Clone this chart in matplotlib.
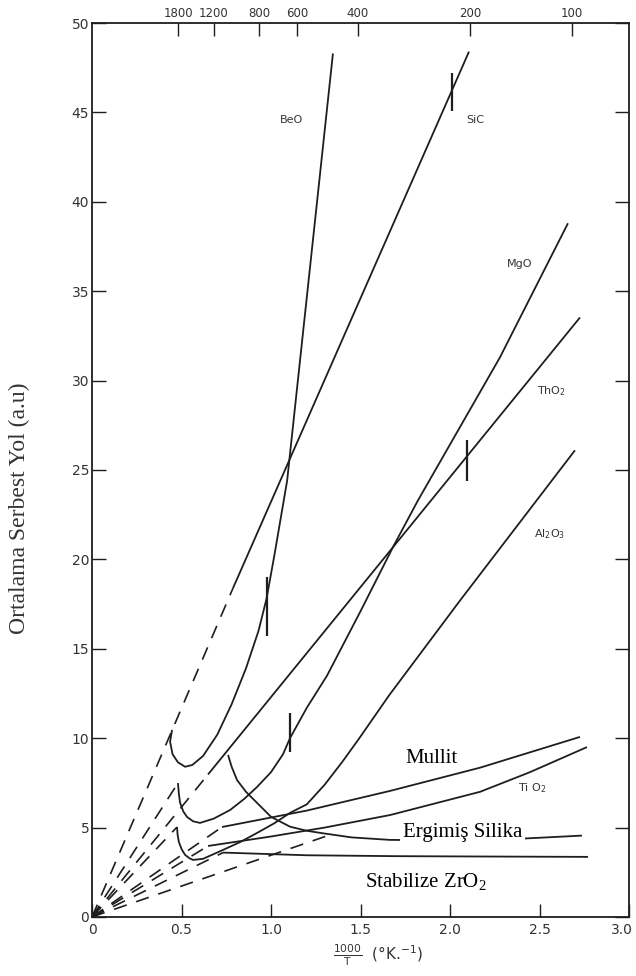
import numpy as np
import matplotlib.pyplot as plt
from matplotlib.transforms import ScaledTranslation

plt.rcParams['mathtext.fontset'] = 'custom'
plt.rcParams['mathtext.rm'] = 'Liberation Serif'
plt.rcParams['mathtext.sf'] = 'DejaVu Sans'
plt.rcParams['font.family'] = 'DejaVu Sans'

# --- curves (x = 1000/T, y = mean free path) ---
beo_x = [0.447, 0.436, 0.45, 0.48, 0.52, 0.56, 0.62, 0.70, 0.78, 0.86, 0.93, 0.975, 1.02, 1.09, 1.346]
beo_y = [10.46, 9.8, 9.1, 8.65, 8.4, 8.5, 9.0, 10.2, 11.9, 13.9, 16.0, 17.8, 20.3, 24.4, 48.3]

sic_x = [0.788, 2.106]
sic_y = [18.4, 48.4]

mgo_x = [0.48, 0.485, 0.492, 0.51, 0.531, 0.565, 0.603, 0.68, 0.771, 0.85, 0.922, 1.0, 1.067,
         1.106, 1.2, 1.313, 1.5, 1.682, 1.821, 2.279, 2.659]
mgo_y = [7.49, 6.9, 6.38, 5.9, 5.59, 5.35, 5.26, 5.5, 5.98, 6.6, 7.27, 8.1, 9.1,
         10.0, 11.7, 13.5, 17.1, 20.7, 23.3, 31.3, 38.8]

tho2_x = [0.648, 2.726]
tho2_y = [7.97, 33.53]

al2o3_x = [0.475, 0.478, 0.485, 0.50, 0.52, 0.545, 0.564, 0.62, 0.732, 0.83, 0.922, 1.02, 1.106,
           1.2, 1.3, 1.4, 1.49, 1.66, 2.056, 2.698]
al2o3_y = [5.03, 4.6, 4.2, 3.8, 3.47, 3.28, 3.19, 3.25, 3.75, 4.2, 4.70, 5.25, 5.82,
           6.3, 7.4, 8.7, 9.95, 12.4, 17.7, 26.1]

mullit_x = [0.726, 1.2, 1.665, 2.168, 2.726]
mullit_y = [5.03, 5.95, 7.05, 8.35, 10.07]

tio2_x = [0.648, 1.0, 1.3, 1.665, 2.168, 2.447, 2.765]
tio2_y = [3.97, 4.5, 5.0, 5.70, 7.0, 8.1, 9.5]

silika_x = [0.760, 0.78, 0.810, 0.86, 0.922, 1.0, 1.106, 1.2, 1.29, 1.45, 1.665, 2.056, 2.4, 2.737]
silika_y = [9.06, 8.4, 7.66, 7.0, 6.38, 5.6, 5.05, 4.82, 4.68, 4.45, 4.31, 4.28, 4.38, 4.55]

zro2_x = [0.732, 1.2, 1.7, 2.2, 2.771]
zro2_y = [3.6, 3.45, 3.4, 3.38, 3.36]

# dashed extrapolations to the origin (end points)
dash_end_x = [0.788, 0.48, 0.648, 0.475, 0.726, 0.648, 0.732, 1.346]
dash_end_y = [18.4, 7.49, 7.97, 5.03, 5.03, 3.97, 3.6, 4.65]

# short vertical marks on curves: x, y_low, y_high
mark_x = [0.978, 1.106, 2.095, 2.011]
mark_lo = [15.7, 9.2, 24.4, 45.1]
mark_hi = [19.0, 11.4, 26.7, 47.2]

# top axis temperatures (deg C)
top_temps = [1800, 1200, 800, 600, 400, 200, 100]

x_ticks = [0, 0.5, 1.0, 1.5, 2.0, 2.5, 3.0]
x_ticklabels = ['0', '0.5', '1.0', '1.5', '2.0', '2.5', '3.0']
y_ticks = [0, 5, 10, 15, 20, 25, 30, 35, 40, 45, 50]

ink = '#1e1e1e'
lw = 1.3

fig = plt.figure(figsize=(6.36, 9.76), dpi=100)
ax = fig.add_axes([0.1447, 0.0605, 0.8443, 0.9159])

for xs, ys in [(beo_x, beo_y), (sic_x, sic_y), (mgo_x, mgo_y), (tho2_x, tho2_y),
               (al2o3_x, al2o3_y), (mullit_x, mullit_y), (tio2_x, tio2_y),
               (silika_x, silika_y), (zro2_x, zro2_y)]:
    ax.plot(xs, ys, color=ink, lw=lw, solid_capstyle='butt', zorder=2)

for ex, ey in zip(dash_end_x, dash_end_y):
    ax.plot([0, ex], [0, ey], color=ink, lw=1.2, linestyle=(0, (8, 6)), zorder=2)

ax.vlines(mark_x, mark_lo, mark_hi, color=ink, lw=1.6, zorder=2)

# chemical labels
chem = [('BeO', 1.117, 44.6), ('SiC', 2.14, 44.6), ('MgO', 2.391, 36.5),
        (r'ThO$\mathsf{_2}$', 2.564, 29.4), (r'Al$\mathsf{_2}$O$\mathsf{_3}$', 2.559, 21.4),
        (r'Ti O$\mathsf{_2}$', 2.458, 7.2)]
for s, x, y in chem:
    ax.text(x, y, s, fontsize=8, color='#333333', ha='center', va='center')

# serif labels on white boxes
box = dict(facecolor='white', edgecolor='none', pad=2)
ax.text(1.894, 8.61, 'Mullit', family='Liberation Serif', fontsize=15,
        ha='center', va='baseline', bbox=box, zorder=5)
ax.text(2.07, 4.47, 'Ergimiş Silika', family='Liberation Serif', fontsize=15,
        ha='center', va='baseline', bbox=box, zorder=5)
ax.text(1.866, 1.68, r'Stabilize ZrO$_2$', family='Liberation Serif', fontsize=15,
        ha='center', va='baseline', bbox=box, zorder=5)

ax.set_xlim(0, 3.0)
ax.set_ylim(0, 50)
ax.set_xticks(x_ticks)
ax.set_xticklabels(x_ticklabels)
ax.set_yticks(y_ticks)
ax.tick_params(axis='x', direction='in', length=9.5, width=1.0, pad=4,
               labelsize=10, colors=ink, labelcolor='#333333')
ax.tick_params(axis='y', direction='in', length=10, width=1.0, pad=2,
               labelsize=10, colors=ink, labelcolor='#333333', right=True)
for sp in ax.spines.values():
    sp.set_color(ink)
    sp.set_linewidth(1.3)

# last bottom label sits at the right edge; nudge it inside
last = ax.get_xticklabels()[-1]
last.set_transform(last.get_transform() + ScaledTranslation(-5 / 72, 0, fig.dpi_scale_trans))

ax.set_xlabel(r'$\frac{\mathsf{1000}}{\mathsf{T}}$  (°K.$\mathsf{^{-1}}$)', fontsize=11,
              color='#333333')
ax.xaxis.set_label_coords(0.533, -0.028)
ax.set_ylabel('Ortalama Serbest Yol (a.u)', family='Liberation Serif', fontsize=17,
              color='#333333')
ax.yaxis.set_label_coords(-0.1155, 0.4575)

# top axis in deg C
ax2 = ax.twiny()
ax2.set_xlim(ax.get_xlim())
ax2.set_xticks([1000.0 / (t + 273) for t in top_temps])
ax2.set_xticklabels([str(t) for t in top_temps])
ax2.tick_params(axis='x', direction='in', length=9, width=1.0, pad=2,
                labelsize=8.5, colors=ink, labelcolor='#333333')
for sp in ax2.spines.values():
    sp.set_visible(False)

fig.savefig('out.png', dpi=100)
